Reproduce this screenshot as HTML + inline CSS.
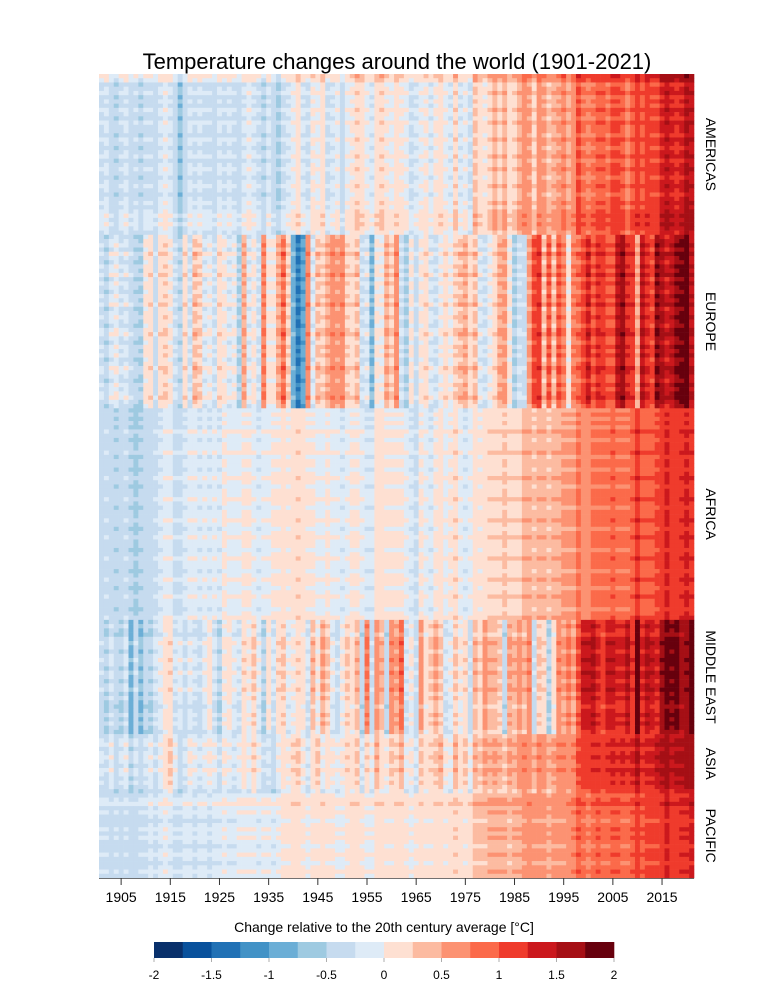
<!DOCTYPE html>
<html><head><meta charset="utf-8">
<style>
html,body{margin:0;padding:0;background:#fff;}
body{width:768px;height:987px;overflow:hidden;font-family:"Liberation Sans",sans-serif;}
svg text{font-family:"Liberation Sans",sans-serif;fill:#000;}
</style></head>
<body>
<svg id="chart" width="768" height="987" viewBox="0 0 768 987" xmlns="http://www.w3.org/2000/svg">
<text x="397" y="69" font-size="22" text-anchor="middle">Temperature changes around the world (1901-2021)</text>
<g id="cells"></g>
<g id="xaxis"></g>
<g id="regions"></g>
<g id="legend"></g>
</svg>
<script>
const startYear = 1901, endYear = 2021;
const regionNames = ["AMERICAS","EUROPE","AFRICA","MIDDLE EAST","ASIA","PACIFIC"];
const regionRowCounts = [38,41,50,27,14,20];
const americas = [-0.3,-0.2,-0.4,-0.5,-0.3,-0.2,-0.4,-0.3,-0.5,-0.3,
-0.3,-0.4,-0.2,-0.1,-0.2,-0.4,-0.7,-0.4,-0.2,-0.3,
-0.2,-0.3,-0.3,-0.4,-0.2,-0.3,-0.2,-0.3,-0.4,-0.2,
-0.1,-0.2,-0.3,-0.5,-0.2,-0.4,-0.6,-0.3,-0.2,-0.1,
0.1,-0.2,-0.3,0.0,-0.1,0.1,-0.3,-0.2,-0.1,-0.4,
-0.1,0.0,0.2,0.1,-0.1,-0.2,0.1,0.2,0.0,-0.1,
0.1,0.0,-0.1,-0.3,-0.2,-0.1,0.0,-0.2,0.0,0.1,
-0.1,-0.2,0.2,-0.2,-0.1,-0.3,0.3,0.1,0.0,0.2,
0.4,0.2,0.4,0.1,0.2,0.4,0.6,0.5,0.2,0.6,
0.5,0.3,0.4,0.5,0.7,0.4,0.6,1.0,0.8,0.7,
0.8,0.9,0.9,0.8,1.0,1.0,0.9,0.7,0.9,1.1,
0.9,1.1,1.0,1.0,1.3,1.4,1.3,1.2,1.3,1.5,1.4];
const europe = [-0.3,-0.5,-0.2,-0.1,-0.3,-0.2,-0.4,-0.5,-0.6,0.0,
0.1,-0.4,0.1,0.2,0.0,-0.3,-0.5,0.1,-0.3,0.3,
0.2,-0.2,-0.1,-0.3,0.1,0.0,-0.2,-0.1,-0.6,0.4,
-0.2,0.0,-0.3,0.7,0.0,0.0,0.4,0.8,0.2,-0.9,
-1.3,-1.0,0.6,-0.2,0.3,0.2,0.4,0.6,0.5,0.6,
0.2,0.1,0.3,-0.3,-0.2,-0.8,0.0,-0.1,0.4,0.2,
0.6,-0.3,-0.6,0.0,-0.4,0.0,0.1,-0.2,-0.3,-0.1,
0.1,-0.1,0.2,0.3,0.4,0.1,0.3,-0.2,-0.3,-0.1,
0.1,0.4,0.5,0.0,-0.6,-0.3,-0.4,0.5,1.0,1.1,
0.3,0.9,0.3,0.9,0.7,0.0,0.7,0.8,1.0,1.3,
0.9,1.2,1.1,0.9,0.9,1.4,1.6,1.2,1.1,0.4,
1.4,1.2,1.0,1.7,1.5,1.3,1.4,1.7,1.8,2.0,1.4];
const africa = [-0.4,-0.3,-0.4,-0.5,-0.4,-0.3,-0.5,-0.6,-0.5,-0.4,
-0.4,-0.3,-0.2,-0.1,-0.1,-0.3,-0.3,-0.2,-0.1,-0.1,
-0.2,-0.1,-0.2,-0.1,-0.2,0.0,-0.1,-0.1,-0.1,0.0,
0.0,-0.1,-0.2,-0.1,-0.1,0.0,0.0,0.1,0.0,0.1,
0.2,0.1,0.0,0.0,-0.1,-0.1,0.0,-0.1,-0.1,-0.2,
-0.1,0.0,0.0,-0.1,-0.2,-0.2,0.1,0.1,0.0,0.0,
0.0,0.0,-0.1,-0.2,-0.3,0.0,-0.1,-0.2,0.0,0.1,
-0.1,0.0,0.2,-0.1,-0.2,-0.1,0.1,0.0,0.1,0.2,
0.2,0.2,0.3,0.2,0.2,0.2,0.4,0.4,0.3,0.4,
0.4,0.3,0.4,0.4,0.5,0.5,0.5,0.8,0.6,0.6,
0.8,0.8,0.8,0.8,0.9,0.8,0.8,0.8,0.9,1.2,
0.9,0.9,0.9,1.0,1.1,1.3,1.1,1.1,1.2,1.3,1.2];
const middleEast = [-0.4,-0.6,-0.3,-0.5,-0.6,-0.3,-0.9,-0.4,-0.8,-0.5,
-0.6,-0.3,-0.2,0.0,0.1,-0.3,-0.2,-0.4,-0.2,-0.3,
-0.4,-0.2,0.0,-0.3,-0.6,-0.1,0.0,-0.2,-0.3,0.1,
-0.1,0.2,-0.2,-0.6,0.0,-0.3,0.1,0.2,-0.2,-0.1,
0.1,0.0,-0.3,0.3,-0.1,0.4,0.2,-0.2,-0.4,-0.1,
0.2,0.0,0.3,-0.5,0.7,-0.4,0.5,0.3,-0.5,0.6,
0.4,0.8,-0.3,-0.1,-0.4,0.5,0.0,0.2,0.4,0.2,
-0.3,-0.2,0.2,-0.1,0.1,-0.4,0.3,0.1,0.5,0.3,
0.3,0.2,-0.5,0.4,0.3,0.5,0.3,0.6,-0.4,0.2,
0.1,-0.6,0.0,0.6,0.4,0.7,0.4,0.9,1.3,1.3,
1.4,1.2,1.0,1.3,1.3,1.2,1.2,1.4,1.1,2.0,
1.2,1.4,1.3,1.2,1.6,1.8,1.7,1.8,1.5,1.6,2.0];
const asia = [-0.3,-0.4,-0.2,-0.5,-0.3,-0.2,-0.6,-0.3,-0.5,-0.3,
-0.2,-0.4,-0.2,0.0,0.2,-0.2,-0.5,-0.3,-0.1,-0.2,
-0.3,-0.2,-0.1,-0.2,-0.4,-0.1,-0.2,-0.3,-0.2,0.0,
-0.2,0.1,-0.2,-0.4,-0.3,-0.5,-0.2,0.0,-0.1,0.1,
0.2,-0.1,-0.3,0.0,0.2,-0.2,0.0,-0.1,-0.2,-0.1,
0.1,0.0,0.2,-0.3,0.1,-0.2,0.3,0.0,-0.1,0.2,
0.1,0.3,-0.2,-0.1,-0.3,0.2,0.0,0.1,0.2,0.3,
-0.1,-0.2,0.3,0.0,0.2,-0.2,0.3,0.2,0.4,0.3,
0.4,0.3,0.2,0.4,0.3,0.5,0.6,0.5,0.3,0.6,
0.5,0.3,0.4,0.6,0.6,0.5,0.6,0.9,1.0,1.0,
1.1,1.1,1.0,1.1,1.2,1.1,1.2,1.1,1.2,1.4,
1.1,1.2,1.2,1.3,1.4,1.5,1.3,1.4,1.4,1.5,1.5];
const pacific = [-0.3,-0.3,-0.4,-0.3,-0.4,-0.3,-0.4,-0.4,-0.3,-0.3,
-0.2,-0.3,-0.2,-0.1,-0.2,-0.3,-0.3,-0.2,-0.2,-0.3,
-0.2,-0.2,-0.3,-0.2,-0.2,-0.1,-0.2,-0.2,-0.1,-0.1,
-0.1,-0.1,-0.2,-0.1,-0.1,-0.2,-0.1,0.0,0.0,0.1,
0.1,0.0,-0.1,0.0,0.0,0.1,0.0,0.0,-0.1,-0.1,
0.0,0.1,0.1,0.0,-0.1,-0.1,0.1,0.1,0.0,0.0,
0.1,0.1,0.0,-0.1,0.0,0.1,0.0,0.0,0.1,0.1,
0.0,0.1,0.2,0.1,0.0,0.1,0.3,0.3,0.3,0.4,
0.4,0.4,0.4,0.3,0.4,0.4,0.5,0.6,0.5,0.5,
0.5,0.4,0.5,0.5,0.5,0.6,0.7,0.9,0.8,0.7,
0.8,0.9,0.8,0.8,0.9,0.9,0.8,0.8,0.9,1.1,
0.9,1.0,1.0,1.0,1.1,1.3,1.1,1.1,1.2,1.2,1.3];
const regionSeries = [americas, europe, africa, middleEast, asia, pacific];
const rowOffsets = [
0.3,0.2,-0.1,0.0,0.1,-0.1,0.0,-0.1,0.1,0.0,-0.1,0.1,0.0,0.0,-0.1,0.1,0.0,-0.1,0.0,0.1,
-0.1,0.0,0.1,0.0,-0.1,0.0,0.1,0.0,-0.1,0.0,0.1,0.0,0.1,0.2,0.1,0.2,0.1,0.0,
-0.1,0.0,0.1,-0.1,0.2,0.0,-0.1,0.1,0.0,0.2,-0.1,0.1,0.0,-0.1,0.1,0.0,0.2,-0.1,0.0,0.1,
0.0,-0.1,0.1,0.2,0.0,-0.1,0.1,0.0,0.1,-0.1,0.0,0.2,0.1,0.0,-0.1,0.1,0.0,0.1,0.2,0.0,-0.1,
-0.1,0.0,-0.1,0.0,-0.1,0.1,0.0,-0.1,0.0,0.0,0.1,-0.1,0.0,0.0,-0.1,0.0,0.1,0.0,-0.1,0.0,
0.0,0.1,0.0,-0.1,0.0,0.0,0.1,0.0,-0.1,0.0,0.1,0.0,0.0,-0.1,0.0,0.1,0.0,0.0,-0.1,0.0,
0.1,0.0,-0.1,0.0,0.1,0.0,0.0,-0.1,0.0,0.1,
0.0,0.1,0.0,-0.1,0.1,0.2,0.1,0.0,0.1,0.2,0.1,0.0,0.2,0.1,0.0,0.1,0.2,0.0,0.1,0.0,-0.1,0.0,0.1,0.0,0.1,0.0,-0.1,
0.0,0.1,0.2,0.0,0.1,0.2,0.1,0.0,0.2,0.1,0.0,0.1,0.0,-0.1,
0.0,0.1,0.2,0.0,0.1,0.0,-0.1,0.0,0.1,0.0,0.1,0.0,-0.1,0.0,0.1,0.0,-0.1,0.0,0.1,0.0];
const legendTicks = ["-2","-1.5","-1","-0.5","0","0.5","1","1.5","2"];
const xTickYears = [1905,1915,1925,1935,1945,1955,1965,1975,1985,1995,2005,2015];
const palette = ["#08306b","#08519c","#2171b5","#4292c6","#6baed6","#9ecae1","#c6dbef","#deebf7",
"#fee0d2","#fcbba1","#fc9272","#fb6a4a","#ef3b2c","#cb181d","#a50f15","#67000d"];

const NS = "http://www.w3.org/2000/svg";
const plot = {x0: 99, x1: 694, y0: 74, y1: 878};
const nYears = endYear - startYear + 1;
const totalRows = regionRowCounts.reduce((a,b)=>a+b,0);
const cw = (plot.x1 - plot.x0) / nYears;
const rh = (plot.y1 - plot.y0) / totalRows;
function xScale(year){ return plot.x0 + (year - startYear) * cw; }
function yScale(row){ return plot.y0 + row * rh; }
function colorFor(v){ let i = Math.floor((v + 2) / 0.25); i = Math.max(0, Math.min(15, i)); return palette[i]; }
function mk(tag, attrs){ const e = document.createElementNS(NS, tag); for (const k in attrs) e.setAttribute(k, attrs[k]); return e; }

const cells = document.getElementById('cells');
let row = 0;
regionRowCounts.forEach((cnt, r) => {
  for (let i = 0; i < cnt; i++, row++) {
    const off = rowOffsets[row] || 0;
    for (let y = 0; y < nYears; y++) {
      const v = regionSeries[r][y] + off;
      const rect = mk('rect', {x: xScale(startYear + y).toFixed(2), y: yScale(row).toFixed(2), width: (cw + 0.3).toFixed(2), height: (rh + 0.3).toFixed(2), fill: colorFor(v)});
      
      
      cells.appendChild(rect);
    }
  }
});

const xaxis = document.getElementById('xaxis');
const axisLine = mk('line', {x1: plot.x0, x2: plot.x1, y1: plot.y1 + 0.5, y2: plot.y1 + 0.5, stroke: '#444', 'stroke-width': 0.8});


xaxis.appendChild(axisLine);
xTickYears.forEach(yr => {
  const x = xScale(yr) + cw / 2;
  const t = mk('line', {x1: x, x2: x, y1: plot.y1, y2: plot.y1 + 7, stroke: '#333', 'stroke-width': 1});
  
  
  xaxis.appendChild(t);
  const lbl = mk('text', {x: x, y: plot.y1 + 24, 'font-size': 14, 'text-anchor': 'middle'});
  lbl.textContent = yr;
  
  
  xaxis.appendChild(lbl);
});

const regions = document.getElementById('regions');
let acc = 0;
regionRowCounts.forEach((cnt, r) => {
  const cy = yScale(acc + cnt / 2);
  acc += cnt;
  const lbl = mk('text', {x: 0, y: 0, 'font-size': 14, 'text-anchor': 'middle', transform: `translate(706,${cy.toFixed(1)}) rotate(90)`});
  lbl.textContent = regionNames[r];
  
  
  regions.appendChild(lbl);
});

const legend = document.getElementById('legend');
const lx0 = 154, lx1 = 614, ly0 = 942, lh = 16;
const lt = mk('text', {x: (lx0 + lx1) / 2, y: 932, 'font-size': 14, 'text-anchor': 'middle'});
lt.textContent = 'Change relative to the 20th century average [°C]';


legend.appendChild(lt);
const bw = (lx1 - lx0) / palette.length;
palette.forEach((c, i) => {
  const r = mk('rect', {x: (lx0 + i * bw).toFixed(2), y: ly0, width: (bw + 0.3).toFixed(2), height: lh, fill: c});
  
  
  legend.appendChild(r);
});
legendTicks.forEach((t, i) => {
  const x = lx0 + i * (lx1 - lx0) / (legendTicks.length - 1);
  const tk = mk('line', {x1: x, x2: x, y1: ly0 + lh, y2: ly0 + lh + 4, stroke: '#999', 'stroke-width': 0.8});
  
  
  legend.appendChild(tk);
  const lbl = mk('text', {x: x, y: 979, 'font-size': 12, 'text-anchor': 'middle'});
  lbl.textContent = t;
  
  
  legend.appendChild(lbl);
});
</script>
</body></html>
